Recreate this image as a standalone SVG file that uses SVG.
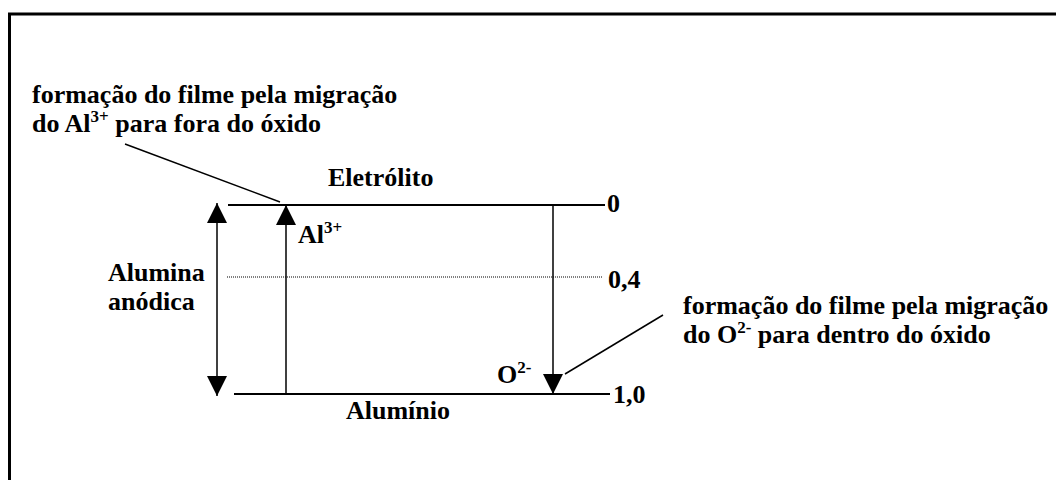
<svg xmlns="http://www.w3.org/2000/svg" width="1056" height="480" viewBox="0 0 1056 480">
<style>
.t{font-family:'Liberation Serif','Times New Roman',Times,serif;font-weight:700;font-size:26px;fill:#000}
.sup{font-size:17px}
.ln{stroke:#000;stroke-width:2;fill:none}
.ar{stroke:#000;stroke-width:1.5;fill:none}
.dot{stroke:#000;stroke-width:1;stroke-dasharray:1 1;fill:none}
</style>
<defs>
<marker id="ah" markerUnits="userSpaceOnUse" markerWidth="20" markerHeight="20" refX="20" refY="10" orient="auto-start-reverse" viewBox="0 0 20 20">
<path d="M0,0 L20,10 L0,20 z" fill="#000"/>
</marker>
</defs>
<rect width="1056" height="480" fill="#fff"/>
<path d="M9.5,480 V14 H1060" stroke="#000" stroke-width="3" fill="none"/>
<g id="levels">
<line class="ln" x1="228" y1="205" x2="605" y2="205"/>
<line class="dot" x1="227" y1="277" x2="603" y2="277"/>
<line class="ln" x1="234" y1="394" x2="610" y2="394"/>
</g>
<g id="connectors">
<line class="ar" x1="217" y1="396" x2="217" y2="203" marker-start="url(#ah)" marker-end="url(#ah)"/>
<line class="ar" x1="286" y1="394" x2="286" y2="205" marker-end="url(#ah)"/>
<line class="ar" x1="553" y1="205" x2="553" y2="394" marker-end="url(#ah)"/>
<line class="ar" x1="125" y1="144" x2="280" y2="202"/>
<line class="ar" x1="565" y1="374" x2="663" y2="315"/>
</g>
<g class="t" font-family="Liberation Serif, serif" font-weight="bold">
<g id="note-al">
<text x="32" y="103">formação do filme pela migração</text>
<text x="32" y="132">do Al<tspan class="sup" dy="-10">3+</tspan><tspan dy="10"> para fora do óxido</tspan></text>
</g>
<g id="note-o">
<text x="683" y="314">formação do filme pela migração</text>
<text x="683" y="343">do O<tspan class="sup" dy="-10">2-</tspan><tspan dy="10"> para dentro do óxido</tspan></text>
</g>
<g id="eletrolito"><text x="328" y="186">Eletrólito</text></g>
<g id="aluminio"><text x="346" y="419">Alumínio</text></g>
<g id="alumina"><text x="108" y="281">Alumina</text><text x="108" y="310">anódica</text></g>
<g id="ion-al"><text x="298" y="243">Al<tspan class="sup" dy="-10">3+</tspan></text></g>
<g id="ion-o"><text x="497" y="383">O<tspan class="sup" dy="-10">2-</tspan></text></g>
<g id="scale">
<text x="607" y="212">0</text>
<text x="608" y="288">0,4</text>
<text x="613" y="403">1,0</text>
</g>
</g>
</svg>
